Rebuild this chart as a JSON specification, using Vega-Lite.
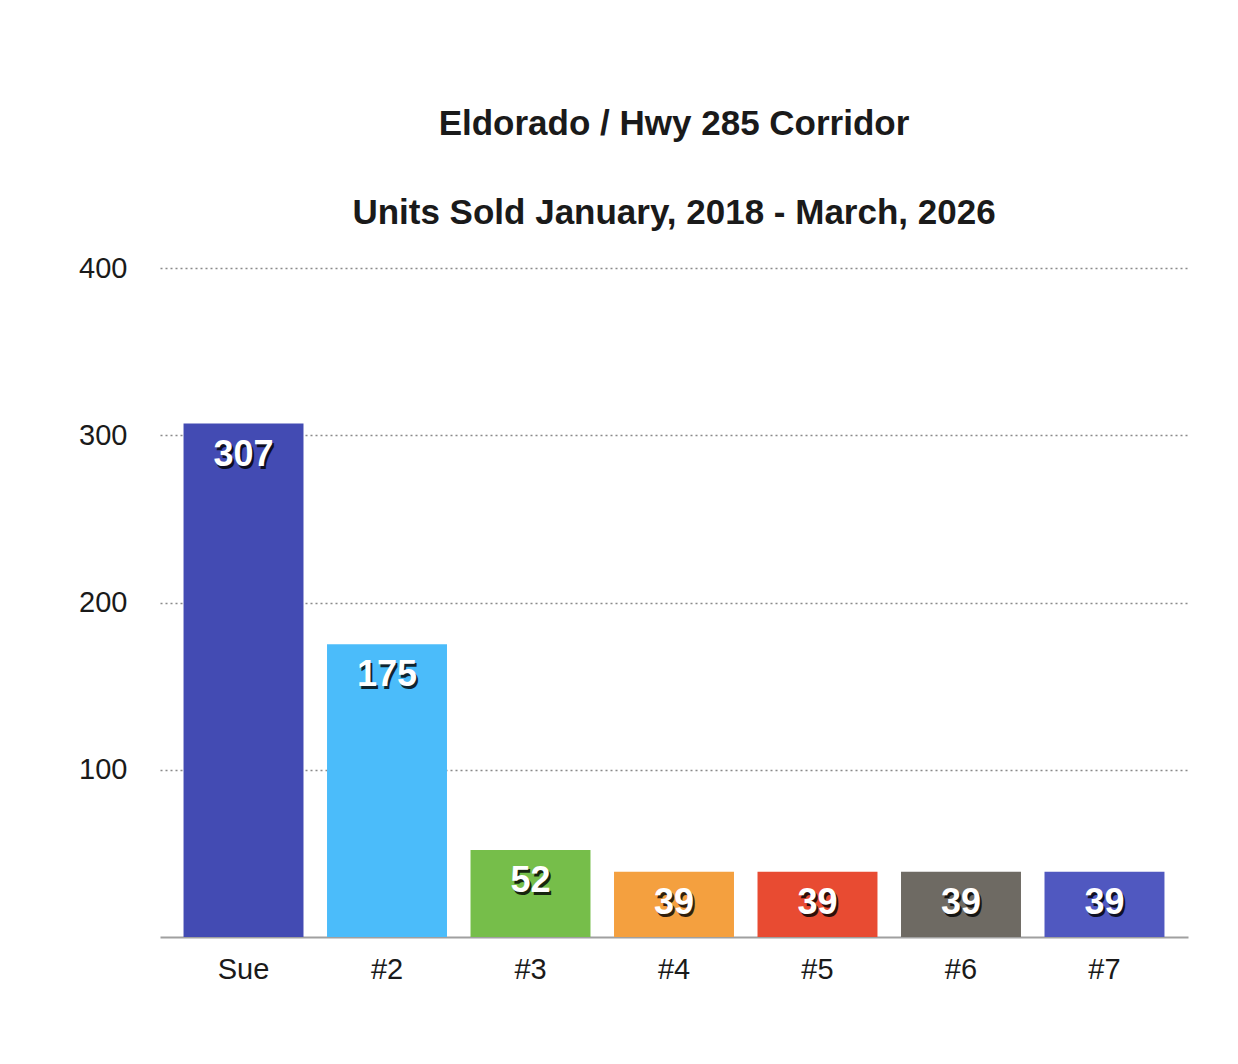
{
  "$schema": "https://vega.github.io/schema/vega-lite/v6.json",
  "autosize": "none",
  "width": 1028,
  "height": 669,
  "padding": {"left": 160, "top": 268, "right": 50, "bottom": 127},
  "background": "white",
  "title": {
    "text": ["Eldorado / Hwy 285 Corridor", "Units Sold January, 2018 - March, 2026"],
    "font": "Liberation Sans",
    "fontSize": 35,
    "fontWeight": "bold",
    "color": "#1a1a1a",
    "lineHeight": 89,
    "anchor": "middle",
    "offset": 23
  },
  "data": {
    "values": [
      {"agent": "Sue", "units": 307, "color": "#434bb3"},
      {"agent": "#2", "units": 175, "color": "#4bbcfa"},
      {"agent": "#3", "units": 52, "color": "#76be4a"},
      {"agent": "#4", "units": 39, "color": "#f4a03f"},
      {"agent": "#5", "units": 39, "color": "#e84b32"},
      {"agent": "#6", "units": 39, "color": "#6e6a63"},
      {"agent": "#7", "units": 39, "color": "#5058c0"}
    ]
  },
  "encoding": {
    "x": {
      "field": "agent",
      "type": "nominal",
      "sort": null,
      "scale": {"paddingInner": 0.164, "paddingOuter": 0.164},
      "axis": {
        "title": null,
        "labelAngle": 0,
        "labelFont": "Liberation Sans",
        "labelFontSize": 29,
        "labelColor": "#1a1a1a",
        "labelPadding": 18,
        "ticks": false,
        "domainColor": "#a0a0a0",
        "domainWidth": 2
      }
    },
    "y": {
      "field": "units",
      "type": "quantitative",
      "scale": {"domain": [0, 400]},
      "axis": {
        "title": null,
        "values": [100, 200, 300, 400],
        "labelFont": "Liberation Sans",
        "labelFontSize": 29,
        "labelColor": "#1a1a1a",
        "labelPadding": 33,
        "ticks": false,
        "domain": false,
        "grid": true,
        "gridColor": "#8a8a8a",
        "gridDash": [2, 3],
        "gridWidth": 1.5
      }
    }
  },
  "layer": [
    {
      "mark": {"type": "bar"},
      "encoding": {"color": {"field": "color", "type": "nominal", "scale": null}}
    },
    {
      "mark": {"type": "text", "font": "Liberation Sans", "fontSize": 36, "fontWeight": "bold", "baseline": "middle", "dy": 34, "dx": 2, "color": "black", "opacity": 0.8},
      "encoding": {"text": {"field": "units", "type": "quantitative"}}
    },
    {
      "mark": {"type": "text", "font": "Liberation Sans", "fontSize": 36, "fontWeight": "bold", "baseline": "middle", "dy": 31, "color": "white"},
      "encoding": {"text": {"field": "units", "type": "quantitative"}}
    }
  ],
  "config": {"view": {"stroke": null}}
}
